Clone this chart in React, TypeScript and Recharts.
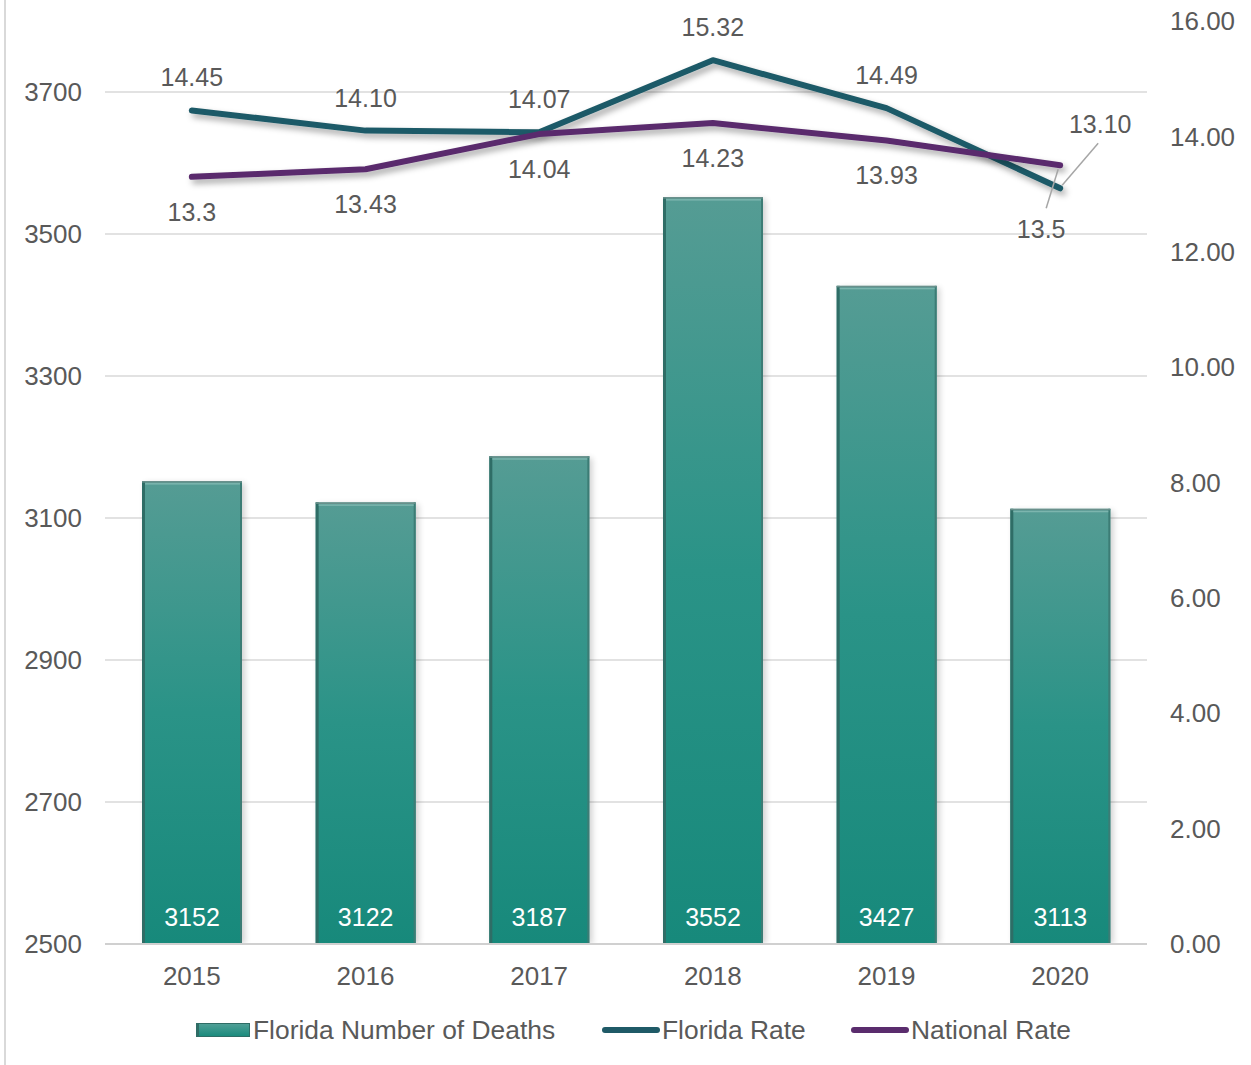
import React from 'react';
import {
  ComposedChart,
  Bar,
  Line,
  XAxis,
  YAxis,
  CartesianGrid,
  LabelList,
} from 'recharts';

const years = ['2015', '2016', '2017', '2018', '2019', '2020'];
const floridaDeaths = [3152, 3122, 3187, 3552, 3427, 3113];
const floridaRate = [14.45, 14.1, 14.07, 15.32, 14.49, 13.1];
const nationalRate = [13.3, 13.43, 14.04, 14.23, 13.93, 13.5];
const floridaRateLabels = ['14.45', '14.10', '14.07', '15.32', '14.49', '13.10'];
const nationalRateLabels = ['13.3', '13.43', '14.04', '14.23', '13.93', '13.5'];
const deathTicks = [2500, 2700, 2900, 3100, 3300, 3500, 3700];
const rateTicks = [0, 2, 4, 6, 8, 10, 12, 14, 16];

const data = years.map((year, i) => ({
  year,
  deaths: floridaDeaths[i],
  flRate: floridaRate[i],
  natRate: nationalRate[i],
}));

const FONT = '"Liberation Sans", Arial, sans-serif';
const TEXT = '#595959';
const FL_COLOR = '#1f5a67';
const NAT_COLOR = '#5a2c6d';

// grid line renderer: skip the line sitting on the top edge of the plot
function GridLine(props: any) {
  const { x1, y1, x2, y2, y } = props;
  if (typeof y === 'number' && Math.abs(y1 - y) < 1) return <g />;
  return <line x1={x1} y1={y1} x2={x2} y2={y2} stroke="#d9d9d9" strokeWidth={1.5} />;
}

function BevelBar(props: any) {
  const { x, y, width, height } = props;
  if (!height || height <= 0) return null;
  return (
    <g>
      <rect x={x + 3} y={y + 2} width={width} height={height - 2} fill="#000" opacity={0.18} filter="url(#barBlur)" />
      <rect x={x} y={y} width={width} height={height} fill="url(#barGrad)" />
      <rect x={x} y={y} width={3} height={height} fill="#2f6d66" />
      <rect x={x + width - 2} y={y} width={2} height={height} fill="#3c7c75" />
      <rect x={x} y={y} width={width} height={1.5} fill="#6a8f8b" />
      <rect x={x + 3} y={y + 2} width={width - 5} height={1.5} fill="#7cb5ae" />
    </g>
  );
}

function BarValue(props: any) {
  const { x, y, width, height, value } = props;
  return (
    <text
      x={x + width / 2}
      y={y + height - 27}
      textAnchor="middle"
      dominantBaseline="central"
      fill="#ffffff"
      fontSize={25}
      fontFamily={FONT}
    >
      {value}
    </text>
  );
}

function FlRateLabel(props: any) {
  const { x, y, index } = props;
  if (index === 5) {
    return (
      <g>
        <line x1={x + 38} y1={y - 45} x2={x + 2} y2={y - 3} stroke="#a6a6a6" strokeWidth={1.5} />
        <text x={x + 40} y={y - 64} textAnchor="middle" dominantBaseline="central" fill={TEXT} fontSize={25} fontFamily={FONT}>
          {floridaRateLabels[index]}
        </text>
      </g>
    );
  }
  return (
    <text x={x} y={y - 33} textAnchor="middle" dominantBaseline="central" fill={TEXT} fontSize={25} fontFamily={FONT}>
      {floridaRateLabels[index]}
    </text>
  );
}

function NatRateLabel(props: any) {
  const { x, y, index } = props;
  if (index === 5) {
    return (
      <g>
        <line x1={x - 2} y1={y + 4} x2={x - 14} y2={y + 43} stroke="#a6a6a6" strokeWidth={1.5} />
        <text x={x - 19} y={y + 64} textAnchor="middle" dominantBaseline="central" fill={TEXT} fontSize={25} fontFamily={FONT}>
          {nationalRateLabels[index]}
        </text>
      </g>
    );
  }
  return (
    <text x={x} y={y + 35} textAnchor="middle" dominantBaseline="central" fill={TEXT} fontSize={25} fontFamily={FONT}>
      {nationalRateLabels[index]}
    </text>
  );
}

function LegendLine({ color }: { color: string }) {
  return (
    <svg width={60} height={12} style={{ display: 'block' }}>
      <line x1={4} y1={6} x2={56} y2={6} stroke={color} strokeWidth={6} strokeLinecap="round" />
    </svg>
  );
}

export default function App() {
  const legendText: React.CSSProperties = {
    position: 'absolute',
    top: 1014,
    fontSize: 26.4,
    fontFamily: FONT,
    color: TEXT,
    lineHeight: '32px',
    whiteSpace: 'nowrap',
  };
  return (
    <div
      style={{
        position: 'absolute',
        left: 0,
        top: 0,
        width: 1251,
        height: 1065,
        background: '#ffffff',
        overflow: 'hidden',
      }}
    >
      <div style={{ position: 'absolute', left: 4, top: 0, width: 2, height: 1065, background: '#d9d9d9' }} />
      <ComposedChart
        width={1251}
        height={1065}
        data={data}
        margin={{ top: 21, right: 0, bottom: 0, left: 0 }}
        barSize={100}
      >
        <defs>
          <linearGradient id="barGrad" x1="0" y1="0" x2="0" y2="1">
            <stop offset="0%" stopColor="#559c94" />
            <stop offset="50%" stopColor="#2a9387" />
            <stop offset="100%" stopColor="#17897b" />
          </linearGradient>
          <filter id="barBlur" x="-10%" y="-10%" width="120%" height="120%">
            <feGaussianBlur stdDeviation="3" />
          </filter>
          <filter id="lineShadow" x="-10%" y="-50%" width="120%" height="200%">
            <feDropShadow dx="3" dy="4" stdDeviation="3" floodColor="#000" floodOpacity="0.35" />
          </filter>
        </defs>
        <CartesianGrid yAxisId="left" vertical={false} horizontal={(p: any) => <GridLine {...p} />} />
        <XAxis
          dataKey="year"
          height={121}
          tickSize={0}
          tickMargin={23}
          axisLine={{ stroke: '#d0d0d0', strokeWidth: 2 }}
          tickLine={false}
          tick={{ fill: TEXT, fontSize: 26, fontFamily: FONT }}
        />
        <YAxis
          yAxisId="left"
          width={105}
          domain={[2500, 3800]}
          ticks={deathTicks}
          allowDataOverflow
          tickSize={0}
          tickMargin={23}
          axisLine={false}
          tickLine={false}
          tick={{ fill: TEXT, fontSize: 26, fontFamily: FONT }}
        />
        <YAxis
          yAxisId="right"
          orientation="right"
          width={104}
          domain={[0, 16]}
          ticks={rateTicks}
          tickFormatter={(v: number) => v.toFixed(2)}
          tickSize={0}
          tickMargin={23}
          axisLine={false}
          tickLine={false}
          tick={{ fill: TEXT, fontSize: 26, fontFamily: FONT }}
        />
        <Bar yAxisId="left" dataKey="deaths" shape={<BevelBar />} isAnimationActive={false}>
          <LabelList dataKey="deaths" content={<BarValue />} />
        </Bar>
        <Line
          yAxisId="right"
          dataKey="flRate"
          stroke={FL_COLOR}
          strokeWidth={6}
          strokeLinecap="round"
          strokeLinejoin="round"
          dot={false}
          activeDot={false}
          filter="url(#lineShadow)"
          isAnimationActive={false}
        >
          <LabelList dataKey="flRate" content={<FlRateLabel />} />
        </Line>
        <Line
          yAxisId="right"
          dataKey="natRate"
          stroke={NAT_COLOR}
          strokeWidth={6}
          strokeLinecap="round"
          strokeLinejoin="round"
          dot={false}
          activeDot={false}
          filter="url(#lineShadow)"
          isAnimationActive={false}
        >
          <LabelList dataKey="natRate" content={<NatRateLabel />} />
        </Line>
      </ComposedChart>
      <div
        style={{
          position: 'absolute',
          left: 196,
          top: 1023,
          width: 50,
          height: 12,
          background: 'linear-gradient(#4f9f96, #1b8b7d)',
          border: '1px solid #2f6d66',
          borderLeftWidth: 3,
        }}
      />
      <div style={{ ...legendText, left: 253 }}>Florida Number of Deaths</div>
      <div style={{ position: 'absolute', left: 601, top: 1024 }}>
        <LegendLine color={FL_COLOR} />
      </div>
      <div style={{ ...legendText, left: 662 }}>Florida Rate</div>
      <div style={{ position: 'absolute', left: 850, top: 1024 }}>
        <LegendLine color={NAT_COLOR} />
      </div>
      <div style={{ ...legendText, left: 911 }}>National Rate</div>
    </div>
  );
}
